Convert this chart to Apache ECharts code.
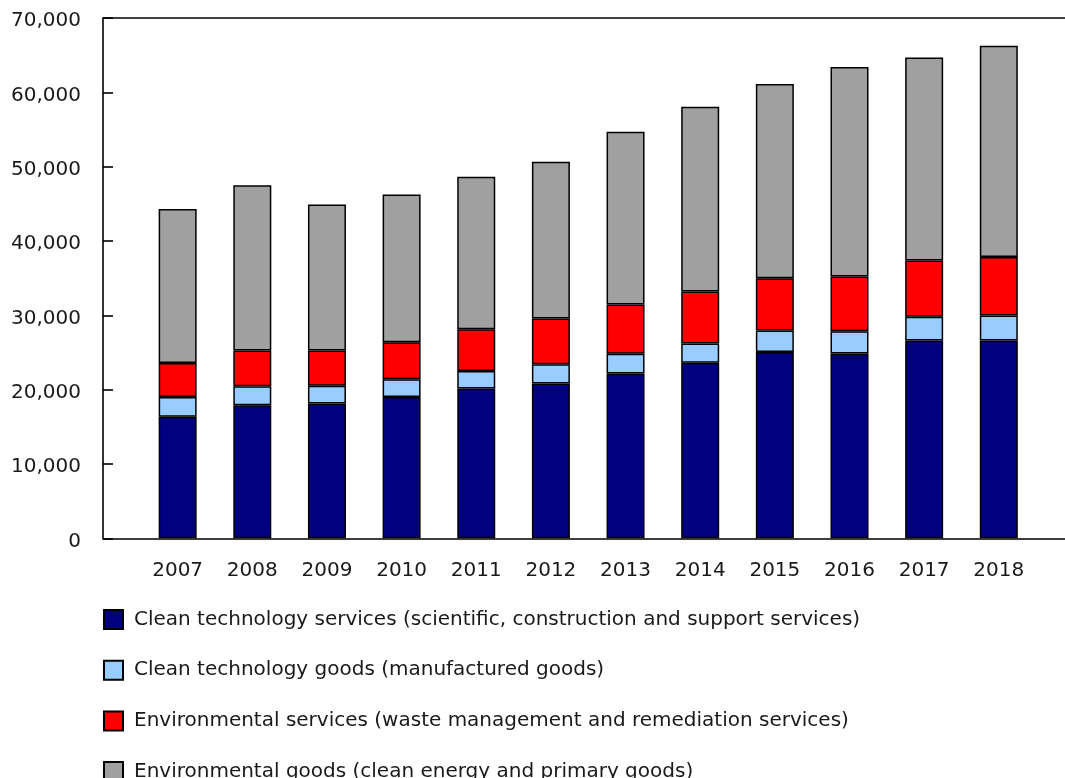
<!DOCTYPE html>
<html>
<head>
<meta charset="utf-8">
<script src="https://cdn.jsdelivr.net/npm/echarts@6/dist/echarts.min.js"></script>
<style>
html,body{margin:0;padding:0;background:#fff;}
#chart{width:1065px;height:778px;}
</style>
</head>
<body>
<div id="chart"></div>
<script>
var years = ['2007','2008','2009','2010','2011','2012','2013','2014','2015','2016','2017','2018'];
var seriesNames = [
  'Clean technology services (scientific, construction and support services)',
  'Clean technology goods (manufactured goods)',
  'Environmental services (waste management and remediation services)',
  'Environmental goods (clean energy and primary goods)'
];
var cleanTechServices = [16350, 17890, 18130, 19000, 20150, 20830, 22170, 23620, 25060, 24870, 26600, 26600];
var cleanTechGoods    = [2650, 2550, 2410, 2400, 2360, 2590, 2650, 2590, 2890, 2980, 3220, 3370];
var envServices       = [4570, 4810, 4710, 4960, 5630, 6160, 6640, 6980, 7020, 7360, 7550, 7880];
var envGoods          = [20730, 22250, 19670, 19910, 20490, 21070, 23230, 24870, 26160, 28190, 27320, 28430];
var yTicks = [0, 10000, 20000, 30000, 40000, 50000, 60000, 70000];

var colors = ['#000080', '#99CCFF', '#FF0000', '#A0A0A0'];
var allValues = [cleanTechServices, cleanTechGoods, envServices, envGoods];
var FONT = 'DejaVu Sans';
var FS = 20;

var chart = echarts.init(document.getElementById('chart'), null, {renderer: 'canvas'});
var series = allValues.map(function (vals, k) {
  return {
    name: seriesNames[k],
    type: 'bar',
    stack: 'total',
    barWidth: 38,
    xAxisIndex: 2,
    yAxisIndex: 1,
    data: vals,
    itemStyle: {color: colors[k], borderColor: '#000', borderWidth: 1.5},
    emphasis: {disabled: true}
  };
});

var band = 74.65;
var yMin = yTicks[0], yMax = yTicks[yTicks.length - 1], yInt = yTicks[1] - yTicks[0];
var frameLine = {show: true, onZero: false, lineStyle: {color: '#000', width: 1.6}};

chart.setOption({
  animation: false,
  textStyle: {fontFamily: FONT},
  grid: [
    {left: 103, top: 18, width: band * 13, bottom: 239.7},
    {left: 103 + band / 2, top: 18, width: band * years.length, bottom: 239.7}
  ],
  xAxis: [{
    gridIndex: 0, type: 'value', min: 0, max: 1, position: 'bottom',
    splitLine: {show: false}, axisTick: {show: false}, axisLabel: {show: false},
    axisLine: frameLine
  }, {
    gridIndex: 0, type: 'value', min: 0, max: 1, position: 'top',
    splitLine: {show: false}, axisTick: {show: false}, axisLabel: {show: false},
    axisLine: frameLine
  }, {
    gridIndex: 1, type: 'category', data: years, boundaryGap: true,
    axisLine: {show: false}, axisTick: {show: false}, splitLine: {show: false},
    axisLabel: {fontFamily: FONT, fontSize: FS, color: '#1a1a1a', margin: 22, interval: 0}
  }],
  yAxis: [{
    gridIndex: 0, type: 'value', min: yMin, max: yMax, interval: yInt,
    splitLine: {show: false},
    axisLine: frameLine,
    axisTick: {show: true, inside: true, length: 10, lineStyle: {color: '#000', width: 1.6}},
    axisLabel: {
      fontFamily: FONT, fontSize: FS, color: '#1a1a1a', margin: 22,
      verticalAlign: 'top', lineHeight: 6,
      formatter: function (v) { return v.toLocaleString('en-US'); }
    }
  }, {
    gridIndex: 1, type: 'value', min: yMin, max: yMax, interval: yInt,
    show: false, splitLine: {show: false}
  }],
  legend: {
    orient: 'vertical',
    left: 103,
    top: 609,
    height: 300,
    padding: 0,
    itemWidth: 19,
    itemHeight: 19,
    itemGap: 29.7,
    icon: 'rect',
    selectedMode: false,
    data: seriesNames,
    textStyle: {fontFamily: FONT, fontSize: FS, color: '#1a1a1a', lineHeight: 20, padding: [0, 0, 0, 6]}
  },
  series: series
});
</script>
</body>
</html>
